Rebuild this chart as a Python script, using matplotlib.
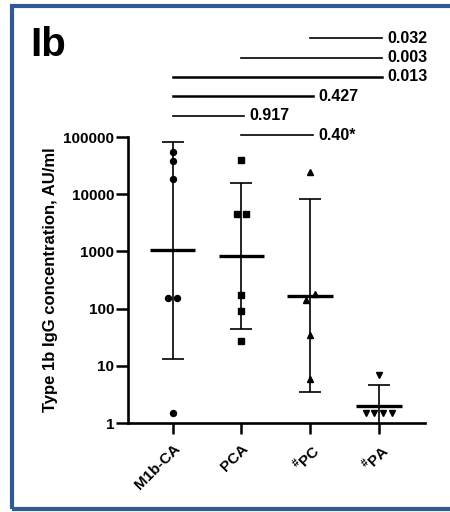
"""Type 1b IgG concentration by group, log scale scatter with geometric mean."""

import numpy as np
import matplotlib

matplotlib.use("Agg")
import matplotlib.pyplot as plt
from matplotlib.patches import Rectangle

plt.rcParams["font.family"] = ["Liberation Sans", "DejaVu Sans"]
plt.rcParams["font.weight"] = "bold"
plt.rcParams["mathtext.fontset"] = "custom"
plt.rcParams["mathtext.rm"] = "Liberation Sans:bold"
plt.rcParams["mathtext.bf"] = "Liberation Sans:bold"

groups = ["M1b-CA", "PCA", r"$^{\#}$PC", r"$^{\#}$PA"]
markers = ["o", "s", "^", "v"]

m1b_ca = [55000, 37500, 18800, 155, 155, 1.5]
pca = [40000, 4600, 4600, 176, 91, 27]
pc = [24500, 183, 140, 34, 5.8]
pa = [7.0, 1.5, 1.5, 1.5, 1.5]
values = [m1b_ca, pca, pc, pa]

means = [1050, 840, 167, 2.0]
err_low = [13.2, 44, 3.5, 0.5]
err_high = [83000, 16000, 8100, 4.6]

y_ticks = [1, 10, 100, 1000, 10000, 100000]
y_tick_labels = ["1", "10", "100", "1000", "10000", "100000"]

# comparisons, stacked from bottom to top
comparisons = [(1, 2, "0.40*"), (0, 1, "0.917"), (0, 2, "0.427"),
               (0, 3, "0.013"), (1, 3, "0.003"), (2, 3, "0.032")]
comparison_widths = [1.2, 1.2, 1.8, 1.8, 1.2, 1.2]


def spread(vals, tol=0.15, step=0.13):
    """Spread near-equal values sideways, like a small beeswarm."""
    logs = np.log10(vals)
    order = np.argsort(logs)
    offsets = np.zeros(len(vals))
    cluster = [order[0]]
    clusters = []
    for idx in order[1:]:
        if logs[idx] - logs[cluster[-1]] < tol:
            cluster.append(idx)
        else:
            clusters.append(cluster)
            cluster = [idx]
    clusters.append(cluster)
    for c in clusters:
        n = len(c)
        for k, idx in enumerate(c):
            offsets[idx] = (k - (n - 1) / 2) * step
    return offsets


fig = plt.figure(figsize=(4.5, 5.12), dpi=100)
ax = fig.add_axes([0.2844, 0.1738, 0.66, 0.5586])

for i, vals in enumerate(values):
    ax.vlines(i, err_low[i], err_high[i], color="black", lw=1.2, zorder=2)
    ax.hlines([err_low[i], err_high[i]], i - 0.16, i + 0.16, color="black", lw=1.2, zorder=2)
    ax.hlines(means[i], i - 0.33, i + 0.33, color="black", lw=2.4, zorder=3)
    ax.plot(i + spread(vals), vals, linestyle="none", marker=markers[i],
            markersize=4.3, color="black", zorder=4)

ax.set_yscale("log")
ax.set_ylim(1, 100000)
ax.set_xlim(-0.65, 3.67)
ax.set_yticks(y_ticks)
ax.set_yticklabels(y_tick_labels, fontsize=11, fontweight="bold")
ax.yaxis.set_minor_locator(matplotlib.ticker.NullLocator())
ax.set_xticks(range(len(groups)))
ax.set_xticklabels(groups, rotation=45, ha="right", rotation_mode="anchor",
                   fontsize=11, fontweight="bold")
ax.tick_params(axis="y", length=9, width=1.8, pad=1)
ax.tick_params(axis="x", length=8, width=1.8, pad=5)
for side in ["top", "right"]:
    ax.spines[side].set_visible(False)
for side in ["left", "bottom"]:
    ax.spines[side].set_linewidth(1.9)

ax.set_ylabel("Type 1b IgG concentration, AU/ml", fontsize=12, fontweight="bold", labelpad=4)

for k, (a, b, label) in enumerate(comparisons):
    y = 10 ** (5.03 + 0.34 * k)
    ax.plot([a, b + 0.04], [y, y], color="black", lw=comparison_widths[k], clip_on=False)
    ax.annotate(label, (b + 0.04, y), xytext=(4, 0), textcoords="offset points",
                va="center", ha="left", fontsize=11.5, fontweight="bold",
                annotation_clip=False)

fig.text(0.068, 0.912, "Ib", fontsize=29, fontweight="bold", va="center", ha="left")

# frame: open on the right, it runs past the picture edge
fig.patches.append(Rectangle((12 / 450, 3 / 512), 460 / 450, 503 / 512,
                             transform=fig.transFigure, fill=False,
                             edgecolor="#2F5A93", lw=3))

fig.savefig("out.png", dpi=100)
